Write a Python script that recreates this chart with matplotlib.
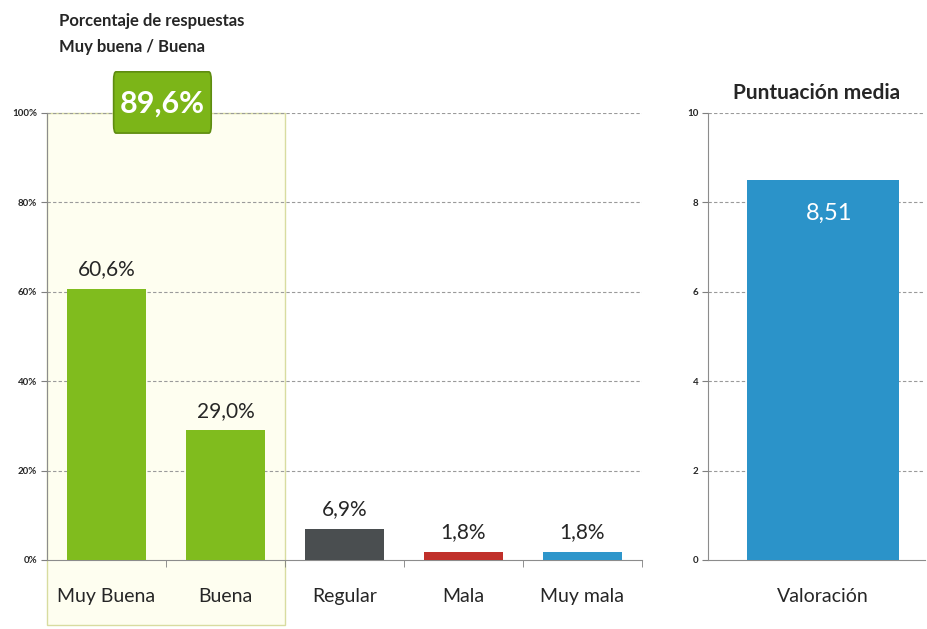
import matplotlib.pyplot as plt
from matplotlib.patches import Rectangle, FancyBboxPatch

plt.rcParams['font.family'] = ['Lato', 'DejaVu Sans']

# Data
categories = ['Muy Buena', 'Buena', 'Regular', 'Mala', 'Muy mala']
percentages = [60.6, 29.0, 6.9, 1.8, 1.8]
pct_labels = ['60,6%', '29,0%', '6,9%', '1,8%', '1,8%']
bar_colors = ['#80bc1e', '#80bc1e', '#4a4e50', '#c0302a', '#2e96cb']
combined_label = '89,6%'

score_category = ['Valoración']
score_values = [8.51]
score_labels = ['8,51']

pct_ticks = [0, 20, 40, 60, 80, 100]
score_ticks = [0, 2, 4, 6, 8, 10]

fig = plt.figure(figsize=(9.27, 6.29), dpi=100)
ax = fig.add_axes([0.0507, 0.1097, 0.6418, 0.7107])
ax2 = fig.add_axes([0.7638, 0.1097, 0.234, 0.7107])

text_col = '#262626'
grid_kw = dict(color='#9a9a9a', linestyle=(0, (3, 2)), linewidth=0.8)

# --- Left chart ---
x = range(len(categories))
# highlight region for Muy buena / Buena
ax.add_patch(Rectangle((-0.5, -0.145), 2.0, 1.145, transform=ax.get_xaxis_transform(),
                       facecolor='#fefef0', edgecolor='#d8dca0', linewidth=1.0,
                       clip_on=False, zorder=0))
ax.bar(x, percentages, width=0.67, color=bar_colors, zorder=3)
for xi, v, lab in zip(x, percentages, pct_labels):
    ax.annotate(lab, (xi, v), xytext=(0, 7), textcoords='offset points',
                ha='center', va='bottom', fontsize=15, color=text_col)

ax.set_xlim(-0.5, len(categories) - 0.5)
ax.set_ylim(0, 100)
ax.set_yticks(pct_ticks)
ax.set_yticklabels([f'{t}%' for t in pct_ticks], fontsize=7, fontweight='bold', color=text_col)
ax.set_xticks(list(x))
ax.set_xticklabels(categories, fontsize=14, color=text_col)
ax.set_xticks([i + 0.5 for i in range(len(categories))], minor=True)
ax.tick_params(axis='x', which='major', length=0, pad=20)
ax.tick_params(axis='x', which='minor', length=5, color='#7f7f7f', direction='out')
ax.tick_params(axis='y', length=4, color='#7f7f7f', pad=3)
for yt in pct_ticks[1:]:
    ax.axhline(yt, zorder=1, **grid_kw)
for s in ['top', 'right']:
    ax.spines[s].set_visible(False)
for s in ['left', 'bottom']:
    ax.spines[s].set_color('#8c8c8c')
ax.set_facecolor('none')

# combined percentage box
ax.add_patch(FancyBboxPatch((0.06, 0.955), 0.82, 0.137, boxstyle='round,pad=0,rounding_size=0.02',
                            transform=ax.get_xaxis_transform(), facecolor='#7cb518',
                            edgecolor='#5e8c10', linewidth=1.2, clip_on=False, zorder=5))
ax.text(0.47, 1.022, combined_label, transform=ax.get_xaxis_transform(), ha='center', va='center',
        fontsize=22, fontweight='bold', color='white', zorder=6)

fig.text(0.064, 0.966, 'Porcentaje de respuestas', fontsize=12, fontweight='bold',
         color=text_col, va='center')
fig.text(0.064, 0.925, 'Muy buena / Buena', fontsize=12, fontweight='bold',
         color=text_col, va='center')

# --- Right chart ---
ax2.bar([0], score_values, width=0.7, color='#2b93c9', zorder=3)
ax2.annotate(score_labels[0], (0.03, score_values[0]), xytext=(0, -24), textcoords='offset points',
             ha='center', va='center', fontsize=17, color='white', zorder=4)
ax2.set_xlim(-0.53, 0.47)
ax2.set_ylim(0, 10)
ax2.set_yticks(score_ticks)
ax2.set_yticklabels([str(t) for t in score_ticks], fontsize=7, fontweight='bold', color=text_col)
ax2.set_xticks([0])
ax2.set_xticklabels(score_category, fontsize=14, color=text_col)
ax2.tick_params(axis='x', length=0, pad=20)
ax2.tick_params(axis='y', length=4, color='#7f7f7f', pad=3)
for yt in score_ticks[1:]:
    ax2.axhline(yt, zorder=1, **grid_kw)
for s in ['top', 'right']:
    ax2.spines[s].set_visible(False)
for s in ['left', 'bottom']:
    ax2.spines[s].set_color('#8c8c8c')
ax2.set_title('Puntuación media', fontsize=15, fontweight='bold', color=text_col, pad=10)

fig.savefig('out.png', dpi=100)
